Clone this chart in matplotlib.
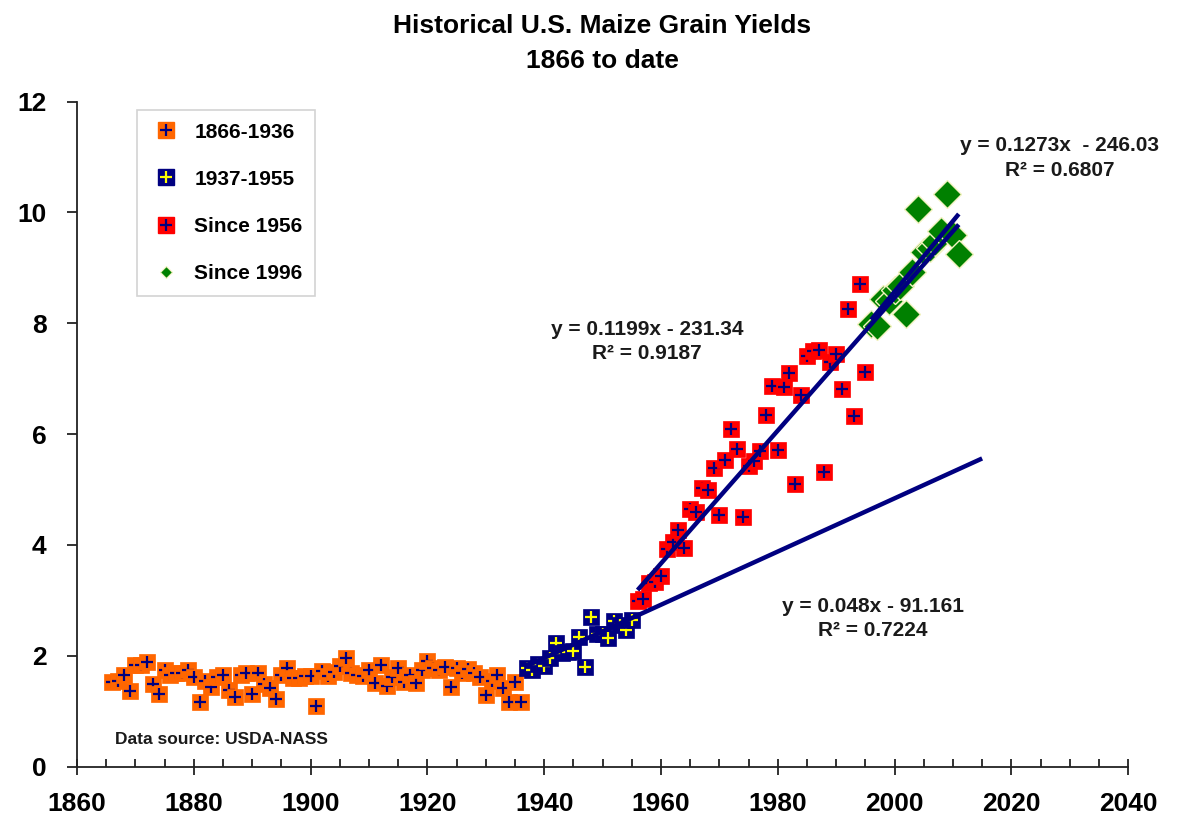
import matplotlib
matplotlib.use("Agg")
import matplotlib.pyplot as plt
from matplotlib.lines import Line2D
from matplotlib.ticker import MultipleLocator

plt.rcParams['font.family'] = ['Liberation Sans', 'DejaVu Sans']
plt.rcParams['font.weight'] = 'bold'

# ---- data (t/ha) ----
years_a = list(range(1866, 1937))
yield_a = [1.53, 1.55, 1.65, 1.37, 1.84, 1.83, 1.88, 1.48, 1.31, 1.74,
           1.65, 1.68, 1.69, 1.75, 1.61, 1.17, 1.54, 1.43, 1.62, 1.66,
           1.38, 1.26, 1.65, 1.69, 1.30, 1.69, 1.48, 1.41, 1.22, 1.65,
           1.77, 1.59, 1.59, 1.63, 1.63, 1.10, 1.73, 1.63, 1.71, 1.81,
           1.96, 1.68, 1.65, 1.63, 1.75, 1.51, 1.83, 1.45, 1.62, 1.77,
           1.53, 1.65, 1.51, 1.74, 1.90, 1.78, 1.75, 1.80, 1.44, 1.77,
           1.68, 1.76, 1.69, 1.61, 1.29, 1.54, 1.66, 1.42, 1.17, 1.52,
           1.17]

years_b = list(range(1937, 1956))
yield_b = [1.77, 1.74, 1.85, 1.81, 1.96, 2.22, 2.05, 2.07, 2.08, 2.34,
           1.80, 2.70, 2.40, 2.40, 2.32, 2.62, 2.55, 2.47, 2.64]

years_c = list(range(1956, 1996))
yield_c = [2.98, 3.03, 3.31, 3.33, 3.43, 3.92, 4.06, 4.26, 3.95, 4.65,
           4.59, 5.03, 4.99, 5.39, 4.54, 5.53, 6.09, 5.73, 4.51, 5.42,
           5.52, 5.70, 6.34, 6.87, 5.71, 6.84, 7.11, 5.09, 6.70, 7.41,
           7.49, 7.52, 5.31, 7.30, 7.44, 6.82, 8.25, 6.32, 8.70, 7.12]

years_d = list(range(1996, 2012))
yield_d = [7.98, 7.95, 8.44, 8.40, 8.59, 8.67, 8.16, 8.93, 10.06, 9.28,
           9.36, 9.46, 9.66, 10.34, 9.59, 9.24]

legend_labels = ['1866-1936', '1937-1955', 'Since 1956', 'Since 1996']

# trend lines: (slope, intercept, start year, end year)
trend_slope = [0.048, 0.1199, 0.1273]
trend_icept = [-91.161, -231.34, -246.03]
trend_start = [1937, 1956, 1996]
trend_end = [2015, 2011, 2011]
trend_text = ['y = 0.048x - 91.161\nR\u00b2 = 0.7224',
              'y = 0.1199x - 231.34\nR\u00b2 = 0.9187',
              'y = 0.1273x  - 246.03\nR\u00b2 = 0.6807']
trend_text_pos = [(1996.3, 2.67), (1957.6, 7.67), (2028.3, 10.98)]

ORANGE = '#FF6600'
NAVY = '#000080'
YELLOW = '#FFFF00'
RED = '#FF0000'
GREEN = '#008000'

fig = plt.figure(figsize=(11.85, 8.22), dpi=100)
ax = fig.add_axes([0.065, 0.0675, 0.887, 0.809])

SQ = 11.5
PL = 9

def draw_series(xs, ys, face, cross, z0):
    z = z0
    for x, y in zip(xs, ys):
        ax.plot([x], [y], marker='s', ms=SQ, mfc=face, mec=face, mew=0.5,
                ls='none', zorder=z)
        ax.plot([x], [y], marker='+', ms=PL, mec=cross, mew=1.6,
                ls='none', zorder=z + 0.5)
        z += 1
    return z

z = draw_series(years_a, yield_a, ORANGE, NAVY, 2)
z = draw_series(years_b, yield_b, NAVY, YELLOW, z)
z = draw_series(years_c, yield_c, RED, NAVY, z)
for x, y in zip(years_d, yield_d):
    ax.plot([x], [y], marker='D', ms=14, mfc=GREEN, mec='#F2F2C0', mew=1.0,
            ls='none', zorder=z)
    z += 1

for s, b, x0, x1 in zip(trend_slope, trend_icept, trend_start, trend_end):
    ax.plot([x0, x1], [s * x0 + b, s * x1 + b], color=NAVY, lw=3.2,
            solid_capstyle='butt', zorder=z + 10)

for t, (tx, ty) in zip(trend_text, trend_text_pos):
    ax.text(tx, ty, t, ha='center', va='center', multialignment='center',
            fontsize=15, fontweight='bold', color='#1a1a1a', linespacing=1.35,
            zorder=z + 20)

ax.text(1866.5, 0.48, 'Data source: USDA-NASS', ha='left', va='center',
        fontsize=12.5, fontweight='bold', color='#1a1a1a')

ax.set_xlim(1860, 2040)
ax.set_ylim(0, 12)
ax.xaxis.set_major_locator(MultipleLocator(20))
ax.xaxis.set_minor_locator(MultipleLocator(5))
ax.yaxis.set_major_locator(MultipleLocator(2))
for sp in ['top', 'right']:
    ax.spines[sp].set_visible(False)
for sp in ['left', 'bottom']:
    ax.spines[sp].set_linewidth(1.3)
    ax.spines[sp].set_color('#222222')
ax.tick_params(axis='x', which='major', direction='inout', length=11,
               width=1.3, pad=13, labelsize=19, color='#222222')
ax.tick_params(axis='x', which='minor', direction='in', length=5.5,
               width=1.3, color='#222222')
ax.tick_params(axis='y', which='major', direction='out', length=7,
               width=1.3, pad=15, labelsize=19, color='#222222')
for lab in ax.get_xticklabels() + ax.get_yticklabels():
    lab.set_fontweight('bold')

handles = [
    (Line2D([], [], marker='s', ms=SQ, mfc=ORANGE, mec=ORANGE, ls='none'),
     Line2D([], [], marker='+', ms=PL, mec=NAVY, mew=1.6, ls='none')),
    (Line2D([], [], marker='s', ms=SQ, mfc=NAVY, mec=NAVY, ls='none'),
     Line2D([], [], marker='+', ms=PL, mec=YELLOW, mew=1.6, ls='none')),
    (Line2D([], [], marker='s', ms=SQ, mfc=RED, mec=RED, ls='none'),
     Line2D([], [], marker='+', ms=PL, mec=NAVY, mew=1.6, ls='none')),
    Line2D([], [], marker='D', ms=6, mfc=GREEN, mec='#F2F2C0', mew=0.8,
           ls='none'),
]
leg = ax.legend(handles, legend_labels, loc='upper left',
                bbox_to_anchor=(0.057, 0.987), frameon=True, fancybox=False,
                edgecolor='#C8C8C8', prop={'weight': 'bold', 'size': 15},
                handlelength=1.6, handletextpad=0.55, labelspacing=1.35,
                borderpad=0.6, borderaxespad=0)
leg.get_frame().set_linewidth(1.2)

fig.text(0.508, 1 - 26 / 822, 'Historical U.S. Maize Grain Yields',
         ha='center', va='center', fontsize=19, fontweight='bold')
fig.text(0.508, 1 - 61 / 822, '1866 to date', ha='center', va='center',
         fontsize=19, fontweight='bold')

fig.savefig('out.png', dpi=100)
